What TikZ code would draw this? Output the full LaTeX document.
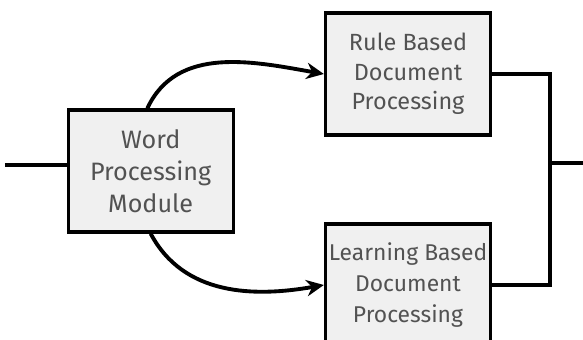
\documentclass[tikz,border=0pt]{standalone}
\usepackage{fontspec}
\setmainfont{Fira Sans}
\usetikzlibrary{arrows.meta}

\begin{document}
\begin{tikzpicture}[
  every node/.style={draw, line width=2.8pt, fill=gray!12, text=black!68,
    minimum width=4.95cm, minimum height=3.66cm, inner sep=0pt, align=center,
    font=\fontsize{20}{25}\selectfont},
  link/.style={line width=3.3pt},
  feed/.style={link, -{Stealth[length=15pt, width=14pt]}}]
  \clip (0,0) rectangle (17.49,10.2);
  \node[font=\fontsize{21.5}{27.5}\selectfont] (word) at (4.52, 5.07) {Word\\Processing\\Module};
  \node (rule) at (12.24, 7.98) {Rule Based\\Document\\Processing};
  \node[font=\fontsize{19.5}{26.5}\selectfont] (learn) at (12.24, 1.65) {Learning Based\\Document\\Processing};
  \coordinate (in) at (0.15, 5.25);
  \coordinate (join) at (16.5, 5.31);
  \coordinate (out) at (17.6, 5.31);
  \draw[link] (in) -- (word.west |- in);
  \draw[feed] ([xshift=-0.1cm]word.north) to[out=65, in=170] (rule.west);
  \draw[feed] (word.south) to[out=-62, in=190] (learn.west);
  \draw[link] (rule.east) -| (join);
  \draw[link] (learn.east) -| (join);
  \draw[link] (join) -- (out);
\end{tikzpicture}
\end{document}
